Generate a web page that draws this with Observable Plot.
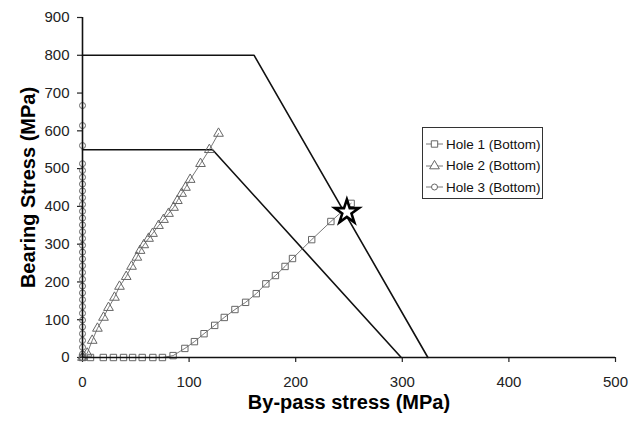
<!DOCTYPE html>
<html>
<head>
<meta charset="utf-8">
<script src="https://cdn.jsdelivr.net/npm/d3@7"></script>
<script src="https://cdn.jsdelivr.net/npm/@observablehq/plot@0.6"></script>
<style>
  html, body { margin: 0; padding: 0; background: #fff; }
  #wrap { position: relative; width: 640px; height: 421px; font-family: "Liberation Sans", Arial, sans-serif; }
  #legend { position: absolute; left: 422px; top: 127px; width: 121px; height: 72px; box-sizing: border-box;
            border: 1px solid #333; background: #fff; font-size: 13.5px; color: #111; }
  .row { position: absolute; left: 3px; height: 20px; display: flex; align-items: center; white-space: nowrap; }
  .row svg { margin-right: 3px; }
</style>
</head>
<body>
<div id="wrap"></div>
<script>
// Hole 1 (Bottom) – squares
const hole1X = [0, 7.5, 19.5, 29, 38.5, 47, 56, 66, 75, 85, 96, 105, 114, 124, 133, 143, 153, 163, 172, 181, 190, 197, 215, 233, 252];
const hole1Y = [0, 0, 0, 0, 0, 0, 0, 0, 0, 5, 24, 42, 63, 85, 106, 127, 146, 169, 195, 217, 241, 262, 312, 360, 408];
// Hole 2 (Bottom) – triangles
const hole2X = [0, 4.4, 9.1, 14, 19.7, 24.4, 30, 34.7, 41, 46, 51, 54, 57.5, 62, 65.7, 71.3, 76, 80.7, 85.4, 89, 93, 96.6, 101, 110.7, 119, 127.6];
const hole2Y = [0, 11, 45, 77, 106, 132, 159, 188, 214, 241, 265, 283, 298, 315, 328, 349, 365, 381, 397, 415, 434, 450, 471, 513, 550, 593];
// Hole 3 (Bottom) – circles
const hole3X = [0, 0, 0, 0, 0, 0, 0, 0, 0, 0, 0, 0, 0, 0, 0, 0, 0, 0, 0, 0, 0, 0, 0, 0, 0, 0, 0, 0, 0, 0, 0, 0, 0];
const hole3Y = [0, 9, 27, 45, 63, 81, 99, 117, 135, 153, 171, 189, 207, 225, 243, 261, 279, 297, 315, 333, 351, 369, 387, 405, 423, 441, 459, 477, 495, 513, 561, 614, 667];
// Failure envelopes
const env1X = [0, 161, 324];
const env1Y = [800, 800, 0];
const env2X = [0, 122, 299];
const env2Y = [550, 550, 0];
// Star point
const starX = [248];
const starY = [385];
// Axis ticks
const xTicks = [0, 100, 200, 300, 400, 500];
const yTicks = [0, 100, 200, 300, 400, 500, 600, 700, 800, 900];
const seriesNames = ["Hole 1 (Bottom)", "Hole 2 (Bottom)", "Hole 3 (Bottom)"];
const seriesSymbols = ["square", "triangle", "circle"];

const pts = (xs, ys) => xs.map((x, i) => ({x, y: ys[i]}));
const h1 = pts(hole1X, hole1Y), h2 = pts(hole2X, hole2Y), h3 = pts(hole3X, hole3Y);
const e1 = pts(env1X, env1Y), e2 = pts(env2X, env2Y), star = pts(starX, starY);

const lineCol = "#555";
const markCol = "#666";

const chart = Plot.plot({
  width: 640,
  height: 421,
  marginLeft: 82,
  marginRight: 25,
  marginTop: 17,
  marginBottom: 64,
  style: {fontFamily: "'Liberation Sans', Arial, sans-serif", background: "#fff", color: "#222"},
  x: {domain: [0, 500]},
  y: {domain: [0, 900]},
  marks: [
    Plot.axisX({ticks: xTicks, tickSize: 5, tickPadding: 14, fontSize: 15, label: null, stroke: "#222", strokeWidth: 1.2}),
    Plot.axisY({ticks: yTicks, tickSize: 5, tickPadding: 8, fontSize: 15, label: null, stroke: "#222", strokeWidth: 1.2}),
    Plot.line(e1, {x: "x", y: "y", stroke: "#111", strokeWidth: 1.6}),
    Plot.line(e2, {x: "x", y: "y", stroke: "#111", strokeWidth: 1.6}),
    Plot.line(h1, {x: "x", y: "y", stroke: lineCol, strokeWidth: 0.8}),
    Plot.line(h2, {x: "x", y: "y", stroke: lineCol, strokeWidth: 0.8}),
    Plot.line(h3, {x: "x", y: "y", stroke: lineCol, strokeWidth: 0.8}),
    Plot.dot(h1, {x: "x", y: "y", symbol: "square", r: 3.6, stroke: markCol, fill: "none", strokeWidth: 1}),
    Plot.dot(h2, {x: "x", y: "y", symbol: "triangle", r: 3.6, stroke: markCol, fill: "none", strokeWidth: 1}),
    Plot.dot(h3, {x: "x", y: "y", symbol: "circle", r: 3, stroke: markCol, fill: "none", strokeWidth: 1}),
    Plot.ruleX([0], {stroke: "#111", strokeWidth: 1.6}),
    Plot.ruleY([0], {stroke: "#111", strokeWidth: 1.6}),
    Plot.dot(star, {x: "x", y: "y", symbol: "star", r: 7.6, stroke: "#000", fill: "#fff", strokeWidth: 2.6}),
    Plot.text(["Bearing Stress (MPa)"], {frameAnchor: "left", textAnchor: "middle", rotate: -90, dx: -54, fontSize: 20, fontWeight: "bold", fill: "#000"}),
    Plot.text(["By-pass stress (MPa)"], {frameAnchor: "bottom", textAnchor: "middle", dy: 51, fontSize: 20, fontWeight: "bold", fill: "#000"})
  ]
});

const wrap = document.getElementById("wrap");
wrap.appendChild(chart);

// Legend
const legend = document.createElement("div");
legend.id = "legend";
const rowTops = [7, 28.5, 50];
seriesNames.forEach((name, i) => {
  const row = document.createElement("div");
  row.className = "row";
  row.style.top = (rowTops[i] - 1) + "px";
  const svg = d3.create("svg").attr("width", 17).attr("height", 12);
  svg.append("line").attr("x1", 0).attr("x2", 17).attr("y1", 6).attr("y2", 6).attr("stroke", lineCol).attr("stroke-width", 0.8);
  const sym = {square: d3.symbolSquare, triangle: d3.symbolTriangle, circle: d3.symbolCircle}[seriesSymbols[i]];
  const r = seriesSymbols[i] === "circle" ? 3 : 3.6;
  svg.append("path").attr("transform", "translate(8.5,6)").attr("d", d3.symbol(sym, Math.PI * r * r)())
     .attr("fill", "#fff").attr("stroke", markCol).attr("stroke-width", 1);
  row.appendChild(svg.node());
  const span = document.createElement("span");
  span.textContent = name;
  row.appendChild(span);
  legend.appendChild(row);
});
wrap.appendChild(legend);
</script>
</body>
</html>
